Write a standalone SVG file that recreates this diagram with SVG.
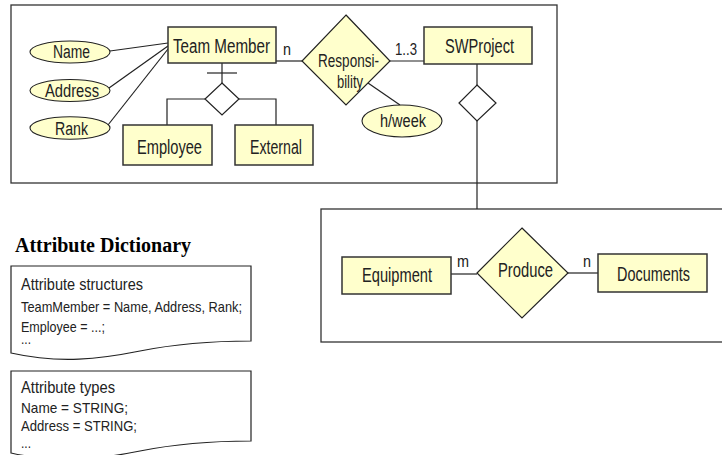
<svg xmlns="http://www.w3.org/2000/svg" width="722" height="455" viewBox="0 0 722 455">
  <style>
    .frame { fill: #ffffff; stroke: #333333; stroke-width: 1.3; }
    .ent { fill: #ffffcc; stroke: #333333; stroke-width: 1.5; }
    .rel { fill: #ffffcc; stroke: #222222; stroke-width: 1.2; }
    .isa { fill: #ffffff; stroke: #222222; stroke-width: 1.2; }
    .attr { fill: #ffffcc; stroke: #222222; stroke-width: 1.1; }
    .doc { fill: #ffffff; stroke: #222222; stroke-width: 1.2; }
    .conn line, .conn polyline { fill: none; stroke: #222222; stroke-width: 1.2; }
    text { font-family: "Liberation Sans Narrow", "Liberation Sans", Arial, sans-serif; fill: #222222; }
    .lbl { font-size: 19.5px; }
    .alb { font-size: 18px; }
    .card { font-size: 17px; }
    .dict { font-size: 16.5px; }
    .dsm { font-size: 15px; }
    .title { font-family: "Liberation Serif", "Times New Roman", serif; font-weight: bold; font-size: 20px; fill: #000000; }
  </style>

  <!-- outer frames -->
  <rect class="frame" x="11" y="5" width="546" height="178"/>
  <rect class="frame" x="321" y="209" width="420" height="133"/>

  <!-- connectors -->
  <g id="connectors" class="conn">
    <line x1="110" y1="51" x2="168" y2="43"/>
    <line x1="109" y1="88" x2="168" y2="46"/>
    <line x1="108" y1="125" x2="168" y2="49"/>
    <line x1="222" y1="63" x2="222" y2="83"/>
    <line x1="207" y1="73" x2="237" y2="73"/>
    <polyline points="205,99 167,99 167,125"/>
    <polyline points="239,99 276,99 276,125"/>
    <line x1="276" y1="61" x2="302" y2="61"/>
    <line x1="390" y1="61" x2="424" y2="61"/>
    <line x1="368" y1="83" x2="400" y2="105"/>
    <line x1="477" y1="64" x2="477" y2="85"/>
    <line x1="477" y1="121" x2="477" y2="209"/>
    <line x1="451" y1="274" x2="477" y2="274"/>
    <line x1="568" y1="273" x2="598" y2="273"/>
  </g>

  <!-- cardinalities -->
  <g id="cardinalities" class="card">
    <text x="283" y="55" textLength="8" lengthAdjust="spacingAndGlyphs">n</text>
    <text x="395" y="55" textLength="22" lengthAdjust="spacingAndGlyphs">1..3</text>
    <text x="457" y="266.5" textLength="12" lengthAdjust="spacingAndGlyphs">m</text>
    <text x="583" y="266.5" textLength="8" lengthAdjust="spacingAndGlyphs">n</text>
  </g>

  <!-- attributes -->
  <g id="attr-name">
    <ellipse class="attr" cx="70" cy="52" rx="40" ry="11"/>
    <text class="alb" x="53" y="58" textLength="37" lengthAdjust="spacingAndGlyphs">Name</text>
  </g>
  <g id="attr-address">
    <ellipse class="attr" cx="70" cy="90.5" rx="40" ry="11"/>
    <text class="alb" x="45" y="96.5" textLength="54" lengthAdjust="spacingAndGlyphs">Address</text>
  </g>
  <g id="attr-rank">
    <ellipse class="attr" cx="70" cy="128" rx="40" ry="11.3"/>
    <text class="alb" x="55" y="134.5" textLength="33" lengthAdjust="spacingAndGlyphs">Rank</text>
  </g>
  <g id="attr-hweek">
    <ellipse class="attr" cx="402" cy="121" rx="40" ry="16"/>
    <text class="alb" x="380" y="127" textLength="46" lengthAdjust="spacingAndGlyphs">h/week</text>
  </g>

  <!-- entities -->
  <g id="team-member">
    <rect class="ent" x="168" y="27" width="108" height="36"/>
    <text class="lbl" x="173" y="52.5" textLength="97" lengthAdjust="spacingAndGlyphs">Team Member</text>
  </g>
  <g id="employee">
    <rect class="ent" x="123" y="125" width="89" height="40"/>
    <text class="lbl" x="137" y="153.5" textLength="65" lengthAdjust="spacingAndGlyphs">Employee</text>
  </g>
  <g id="external">
    <rect class="ent" x="235" y="125" width="78" height="40"/>
    <text class="lbl" x="250" y="153.5" textLength="52" lengthAdjust="spacingAndGlyphs">External</text>
  </g>
  <g id="swproject">
    <rect class="ent" x="424" y="27" width="108" height="37"/>
    <text class="lbl" x="445" y="52.5" textLength="69" lengthAdjust="spacingAndGlyphs">SWProject</text>
  </g>
  <g id="equipment">
    <rect class="ent" x="342" y="257" width="109" height="37"/>
    <text class="lbl" x="362" y="282" textLength="70" lengthAdjust="spacingAndGlyphs">Equipment</text>
  </g>
  <g id="documents">
    <rect class="ent" x="598" y="254" width="109" height="38"/>
    <text class="lbl" x="617" y="280.5" textLength="73" lengthAdjust="spacingAndGlyphs">Documents</text>
  </g>

  <!-- relationships -->
  <g id="responsibility">
    <polygon class="rel" points="346,15 390,61 346,105 302,61"/>
    <text class="alb" x="318" y="66.5" textLength="61" lengthAdjust="spacingAndGlyphs">Responsi-</text>
    <text class="alb" x="337" y="88" textLength="26" lengthAdjust="spacingAndGlyphs">bility</text>
  </g>
  <g id="produce">
    <polygon class="rel" points="522,228 568,273 522,318 477,273"/>
    <text class="lbl" x="498" y="276.5" textLength="55" lengthAdjust="spacingAndGlyphs">Produce</text>
  </g>

  <!-- generalisation and aggregation diamonds -->
  <g id="isa-diamond">
    <polygon class="isa" points="222,83 239,99 222,115 205,99"/>
  </g>
  <g id="part-diamond">
    <polygon class="isa" points="477,85 496,103 477,121 459,103"/>
  </g>

  <!-- attribute dictionary -->
  <g id="dictionary-title">
    <text class="title" x="15" y="252">Attribute Dictionary</text>
  </g>
  <g id="attribute-structures">
    <path class="doc" d="M11,266 H251 V341 C212,341 180,343 140,351 C100,359 60,364 11,353 Z"/>
    <text class="dict" x="21" y="290" textLength="122" lengthAdjust="spacingAndGlyphs">Attribute structures</text>
    <text class="dsm" x="21" y="312" textLength="221" lengthAdjust="spacingAndGlyphs">TeamMember = Name, Address, Rank;</text>
    <text class="dsm" x="21" y="331.5" textLength="84" lengthAdjust="spacingAndGlyphs">Employee = ...;</text>
    <text class="dsm" x="21" y="344" textLength="10" lengthAdjust="spacingAndGlyphs">...</text>
  </g>
  <g id="attribute-types">
    <path class="doc" d="M11,371 H251 V441 C212,441 180,443 140,451 C100,459 60,464 11,453 Z"/>
    <text class="dict" x="21" y="393" textLength="94" lengthAdjust="spacingAndGlyphs">Attribute types</text>
    <text class="dsm" x="21" y="413" textLength="107" lengthAdjust="spacingAndGlyphs">Name = STRING;</text>
    <text class="dsm" x="21" y="431" textLength="116" lengthAdjust="spacingAndGlyphs">Address = STRING;</text>
    <text class="dsm" x="21" y="448" textLength="10" lengthAdjust="spacingAndGlyphs">...</text>
  </g>
</svg>
